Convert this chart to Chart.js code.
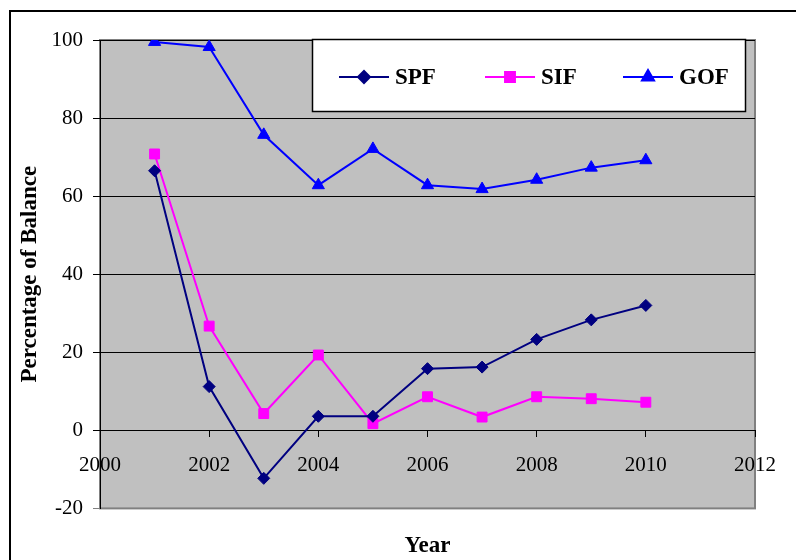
<!DOCTYPE html>
<html lang="en-US">
<head>
  <meta charset="utf-8">
  <title>Percentage of Balance by fund</title>
  <script src="https://cdn.jsdelivr.net/npm/chart.js@4/dist/chart.umd.min.js"></script>
  <style>
    html, body { margin: 0; padding: 0; background: #fff; overflow: hidden; }
    .frame { position: absolute; left: 9px; top: 10px; width: 900px; height: 700px; border: 2px solid #000; }
    .wrapper { position: absolute; left: 0; top: 0; width: 796px; height: 560px; }
  </style>
</head>
<body>
  <div class="frame"></div>
  <div class="wrapper">
    <canvas id="chart-0" width="796" height="560"></canvas>
  </div>

  <script>
    let years = [2001, 2002, 2003, 2004, 2005, 2006, 2007, 2008, 2009, 2010];
    let spf = [66.5, 11.2, -12.3, 3.6, 3.6, 15.8, 16.2, 23.3, 28.3, 32.0];
    let sif = [70.8, 26.7, 4.3, 19.3, 1.7, 8.6, 3.4, 8.6, 8.1, 7.2];
    let gof = [99.5, 98.2, 75.7, 62.8, 72.1, 62.8, 61.8, 64.2, 67.3, 69.2];
    let xTicks = [2000, 2002, 2004, 2006, 2008, 2010, 2012];
    let yTicks = [-20, 0, 20, 40, 60, 80, 100];

    let serif = "'Liberation Serif', 'Times New Roman', serif";

    function points(values) {
      return years.map((yr, i) => ({x: yr, y: values[i]}));
    }

    function series(label, values, color, style, radius) {
      return {
        label: label,
        data: points(values),
        borderColor: color,
        backgroundColor: color,
        borderWidth: 2,
        pointStyle: style,
        pointRadius: radius,
        pointHoverRadius: radius,
        pointBorderWidth: 1,
        tension: 0
      };
    }

    // grey plot background with its border
    let plotBackground = {
      id: 'plotBackground',
      beforeDraw(chart) {
        let a = chart.chartArea;
        let ctx = chart.ctx;
        ctx.save();
        ctx.fillStyle = '#c0c0c0';
        ctx.fillRect(a.left, a.top, a.right - a.left, a.bottom - a.top);
        ctx.strokeStyle = '#808080';
        ctx.lineWidth = 2;
        ctx.strokeRect(a.left, a.top, a.right - a.left, a.bottom - a.top);
        ctx.restore();
      }
    };

    // boxed legend inside the plot, line + marker like the original
    let boxLegend = {
      id: 'boxLegend',
      afterDraw(chart) {
        let ctx = chart.ctx;
        let box = {x: 312, y: 39, w: 434, h: 73};
        ctx.save();
        ctx.fillStyle = '#fff';
        ctx.fillRect(box.x, box.y, box.w, box.h);
        ctx.strokeStyle = '#000';
        ctx.lineWidth = 1.5;
        ctx.strokeRect(box.x + 0.5, box.y + 0.5, box.w - 1, box.h - 1);

        let cy = 77;
        let starts = [339, 485, 623];
        chart.data.datasets.forEach(function(ds, i) {
          let x0 = starts[i];
          ctx.strokeStyle = ds.borderColor;
          ctx.lineWidth = 2;
          ctx.beginPath();
          ctx.moveTo(x0, cy);
          ctx.lineTo(x0 + 50, cy);
          ctx.stroke();
          Chart.helpers.drawPoint(ctx, {
            pointStyle: ds.pointStyle,
            radius: ds.pointRadius,
            rotation: 0,
            borderWidth: 1
          }, x0 + 25, cy);
          ctx.fillStyle = ds.borderColor;
          ctx.fill();
          ctx.fillStyle = '#000';
          ctx.font = 'bold 23px ' + serif;
          ctx.textBaseline = 'middle';
          ctx.textAlign = 'left';
          ctx.fillText(ds.label, x0 + 56, cy + 1);
        });
        ctx.restore();
      }
    };

    let chart = new Chart('chart-0', {
      type: 'line',
      data: {
        datasets: [
          series('SPF', spf, '#000080', 'rectRot', 6),
          series('SIF', sif, '#ff00ff', 'rect', 7),
          series('GOF', gof, '#0000ff', 'triangle', 7)
        ]
      },
      options: {
        responsive: false,
        animation: false,
        layout: {
          padding: {left: 10, top: 40, right: 41, bottom: 0}
        },
        plugins: {
          legend: { display: false },
          tooltip: { enabled: false },
          title: {
            display: true,
            position: 'bottom',
            fullSize: false,
            text: 'Year',
            color: '#000',
            font: { family: serif, size: 23, weight: 'bold' },
            padding: { top: 24, bottom: 0 }
          }
        },
        scales: {
          x: {
            type: 'linear',
            position: { y: 0 },
            min: 2000,
            max: 2012,
            afterBuildTicks(scale) {
              scale.ticks = xTicks.map(v => ({value: v}));
            },
            ticks: {
              color: '#000',
              padding: 17,
              maxRotation: 0,
              font: { family: serif, size: 21 },
              callback: v => String(v)
            },
            grid: {
              drawOnChartArea: false,
              drawTicks: true,
              tickLength: 6,
              color: '#000'
            },
            border: { color: '#000', width: 1 }
          },
          y: {
            min: -20,
            max: 100,
            afterBuildTicks(scale) {
              scale.ticks = yTicks.map(v => ({value: v}));
            },
            afterFit(scale) {
              scale.width = 90;
            },
            ticks: {
              color: '#000',
              padding: 10,
              font: { family: serif, size: 21 }
            },
            grid: {
              color: ctx => ctx.tick && ctx.tick.value === -20 ? '#808080' : '#000',
              tickLength: 7,
              lineWidth: 1
            },
            border: { color: '#000', width: 1 },
            title: {
              display: true,
              text: 'Percentage of Balance',
              color: '#000',
              font: { family: serif, size: 23, weight: 'bold' },
              padding: { top: 6, bottom: 0 }
            }
          }
        }
      },
      plugins: [plotBackground, boxLegend]
    });
  </script>
</body>
</html>
